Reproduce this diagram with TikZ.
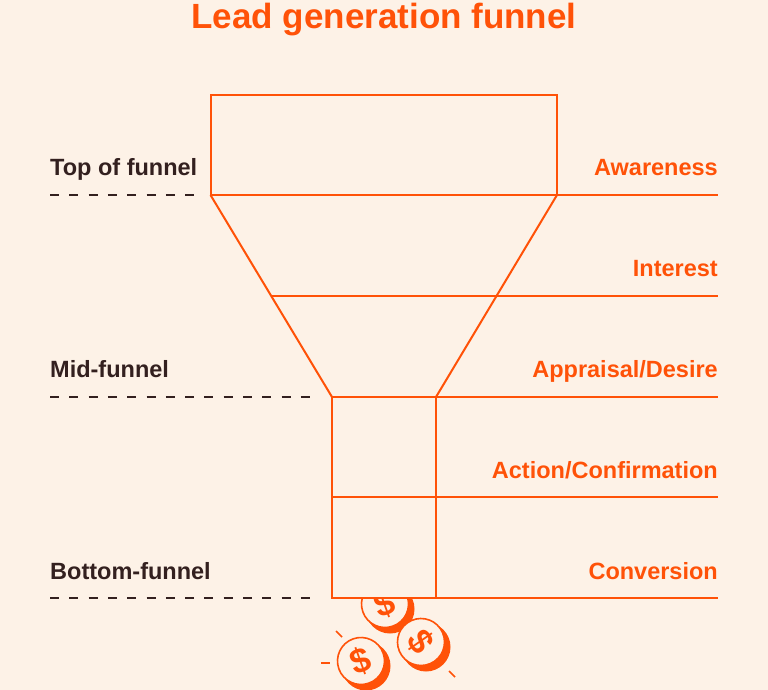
\documentclass[tikz,border=0pt]{standalone}
\usepackage{fontspec}
\setmainfont{Liberation Sans}
\newfontfamily\labelfont{Liberation Sans Bold}
\newfontfamily\coinfont{Liberation Sans Bold}
\usepackage{tikz}
\definecolor{paper}{HTML}{FDF2E7}
\definecolor{funnel}{HTML}{FF5208}
\definecolor{ink}{HTML}{33201F}

\begin{document}
\begin{tikzpicture}[
  x=1pt, y=-1pt,
  funnelline/.style={draw=funnel, line width=2pt, line join=miter},
  guide/.style={draw=ink, line width=1.6pt, dash pattern=on 9pt off 10.3pt},
  stage/.style={anchor=base east, inner sep=0pt, text=funnel, font=\fontsize{23.5}{28}\labelfont},
  level/.style={anchor=base west, inner sep=0pt, text=ink, font=\fontsize{23.5}{28}\labelfont},
  coinshade/.style={circle, fill=funnel, minimum size=49pt, inner sep=0pt},
  coin/.style={circle, draw=funnel, line width=1.6pt, fill=paper, minimum size=47pt, inner sep=0pt, text=funnel, font=\fontsize{35}{35}\coinfont},
  tick/.style={draw=funnel, line width=1.6pt}
]

% Background
\fill[paper] (0,0) rectangle (768,690);
\clip (0,0) rectangle (768,690);
\useasboundingbox (0,0) rectangle (768,690);

% Title
\node[anchor=base, inner sep=0pt, text=funnel, font=\fontsize{35}{40}\labelfont] (title) at (384,28.5) {Lead generation funnel};

% Coins
\node[coinshade] (shadea) at (390,609) {};
\node[coin, rotate=20] (coina) at (385,604) {\$};
\node[coinshade] (shadeb) at (426,647) {};
\node[coin, rotate=-55] (coinb) at (421,642) {\$};
\node[coinshade] (shadec) at (366,666) {};
\node[coin, rotate=20] (coinc) at (361,661) {\$};

% Coin ticks
\coordinate (ticka) at (336,631);
\coordinate (tickb) at (342,637);
\coordinate (tickc) at (321,663);
\coordinate (tickd) at (330,663);
\coordinate (ticke) at (449,671);
\coordinate (tickf) at (455,677);
\draw[tick] (ticka) -- (tickb);
\draw[tick] (tickc) -- (tickd);
\draw[tick] (ticke) -- (tickf);

% Funnel corners
\coordinate (rimleft) at (210.5,95);
\coordinate (rimright) at (557,95);
\coordinate (mouthleft) at (210.5,195);
\coordinate (mouthright) at (557,195);
\coordinate (neckleft) at (332,397);
\coordinate (neckright) at (436,397);
\coordinate (midleft) at (332,497);
\coordinate (midright) at (436,497);
\coordinate (baseleft) at (332,598);
\coordinate (baseright) at (436,598);
\coordinate (waistleft) at (272,296);

% Right hand ends
\coordinate (endawareness) at (718,195);
\coordinate (endinterest) at (718,296);
\coordinate (endappraisal) at (718,397);
\coordinate (endaction) at (718,497);
\coordinate (endconversion) at (718,598);

% Funnel
\draw[funnelline, fill=paper] (neckleft) -- (neckright) -- (baseright) -- (baseleft) -- cycle;
\draw[funnelline] (rimleft) -- (rimright) -- (mouthright) -- (mouthleft) -- cycle;
\draw[funnelline] (mouthleft) -- (neckleft);
\draw[funnelline] (mouthright) -- (neckright);
\draw[funnelline] (mouthright) -- (endawareness);
\draw[funnelline] (waistleft) -- (endinterest);
\draw[funnelline] (neckright) -- (endappraisal);
\draw[funnelline] (midleft) -- (endaction);
\draw[funnelline] (baseright) -- (endconversion);

% Stages
\node[stage] (awareness) at (718,175.5) {Awareness};
\node[stage] (interest) at (718,276.5) {Interest};
\node[stage] (appraisal) at (718,377.5) {Appraisal/Desire};
\node[stage] (action) at (718,478.5) {Action/Confirmation};
\node[stage] (conversion) at (718,579.5) {Conversion};

% Levels
\node[level] (top) at (50,175.5) {Top of funnel};
\node[level] (mid) at (50,377.5) {Mid-funnel};
\node[level] (bottom) at (50,579.5) {Bottom-funnel};

% Dashed guides
\coordinate (guideastart) at (50,195);
\coordinate (guideaend) at (195,195);
\coordinate (guidebstart) at (50,397);
\coordinate (guidebend) at (311,397);
\coordinate (guidecstart) at (50,598);
\coordinate (guidecend) at (311,598);
\draw[guide] (guideastart) -- (guideaend);
\draw[guide] (guidebstart) -- (guidebend);
\draw[guide] (guidecstart) -- (guidecend);

\end{tikzpicture}
\end{document}
